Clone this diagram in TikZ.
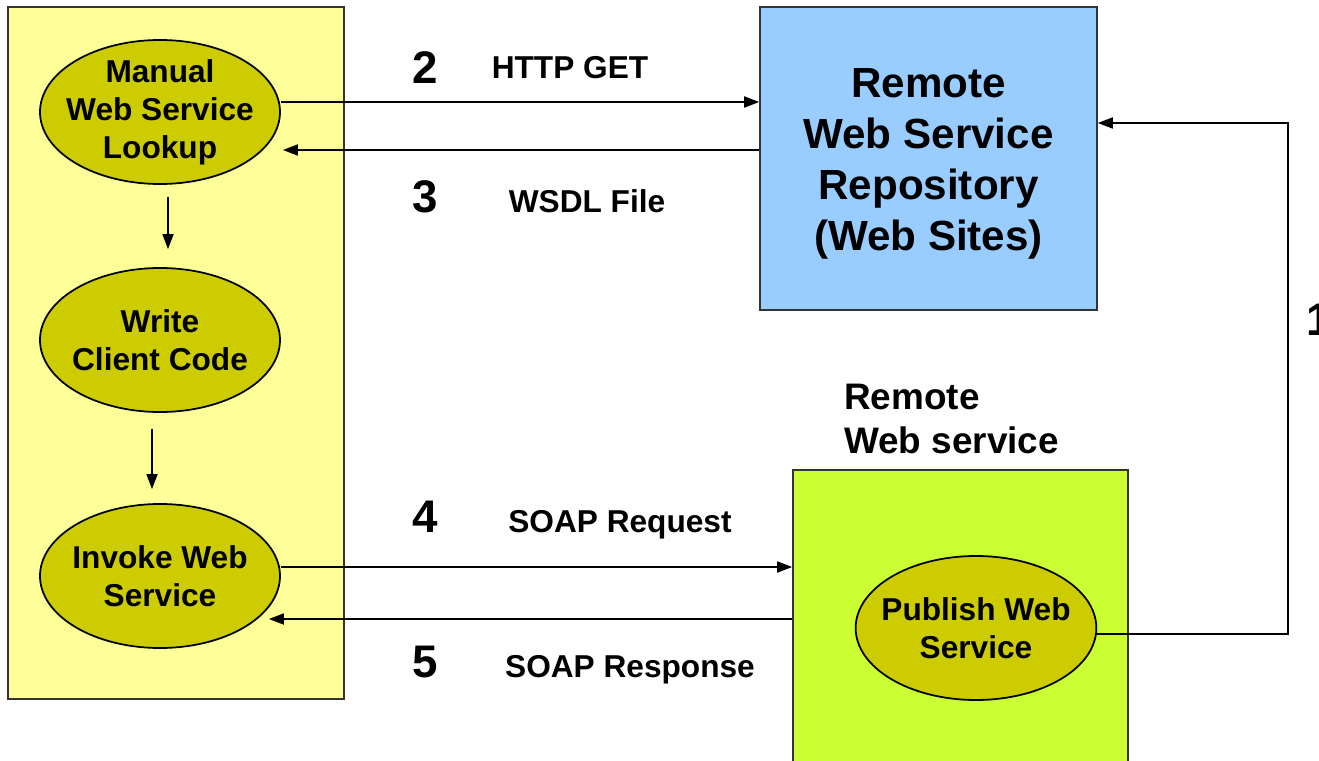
\documentclass[tikz,border=0pt]{standalone}
\usepackage{fontspec}
\setmainfont{Liberation Sans}
\usetikzlibrary{shapes.geometric, arrows.meta, positioning, calc}
\definecolor{PaleYellow}{HTML}{FFFF99}
\definecolor{Olive}{HTML}{CCCC00}
\definecolor{SkyBlue}{HTML}{99CCFF}
\definecolor{Lime}{HTML}{CCFF33}

\begin{document}
\begin{tikzpicture}[
  frame/.style={draw=black!80, line width=0.9pt, inner sep=0pt},
  task/.style={ellipse, draw, fill=Olive, line width=1pt,
               minimum width=4.8cm, minimum height=2.88cm,
               inner xsep=-0.19cm, inner ysep=-0.04cm,
               font=\fontsize{18}{21.6}\selectfont\bfseries, align=center},
  arr/.style={-{Triangle[length=0.3cm, width=0.22cm]}, line width=1pt},
  step num/.style={font=\fontsize{26}{30}\selectfont\bfseries},
  msg/.style={font=\fontsize{18}{21.6}\selectfont\bfseries},
]
\useasboundingbox (0,0) rectangle (26.38,15.2);

% client side
\node[frame, fill=PaleYellow, minimum width=6.72cm, minimum height=13.84cm]
  (client) at (3.52,8.14) {};
\node[task] (lookup) at (3.2,12.96) {Manual\\Web Service\\Lookup};
\node[task] (write)  at (3.2,8.4)  {Write\\Client Code};
\node[task] (invoke) at (3.2,3.68) {Invoke Web\\Service};

\draw[arr, shorten <=0.24cm, shorten >=0.36cm]
  ([xshift=0.16cm]lookup.south) -- ([xshift=0.16cm]write.north);
\draw[arr, shorten <=0.32cm, shorten >=0.28cm]
  ([xshift=-0.16cm]write.south) -- ([xshift=-0.16cm]invoke.north);

% repository and service
\node[frame, fill=SkyBlue, minimum width=6.74cm, minimum height=6.06cm,
      font=\fontsize{24}{29}\selectfont\bfseries, align=center]
  (repo) at (18.57,12.03) {\\[-0.24cm]Remote\\Web Service\\Repository\\(Web Sites)};
\node[frame, fill=Lime, minimum width=6.7cm, minimum height=6.4cm]
  (service) at (19.21,2.6) {};
\node[font=\fontsize{21}{25}\selectfont\bfseries, align=left, anchor=west]
  (svclabel) at (16.76,6.82) {Remote\\Web service};
\node[task] (publish) at (19.52,2.64) {Publish Web\\Service};

% messages
\draw[arr] ([yshift=0.2cm]lookup.east) -- ([yshift=0.2cm]lookup.east -| repo.west);
\draw[arr] ([yshift=-0.76cm]lookup.east -| repo.west) -- ([xshift=0.04cm, yshift=-0.76cm]lookup.east);
\draw[arr] ([yshift=0.18cm]invoke.east) -- ([yshift=0.18cm]invoke.east -| service.west);
\draw[arr] ([yshift=-0.86cm]invoke.east -| service.west) -- ([xshift=-0.24cm, yshift=-0.86cm]invoke.east);

\coordinate (turn) at (25.76,12.74);
\draw[arr] ([yshift=-0.12cm]publish.east) -| (turn) -- (turn -| repo.east);

\node[step num] (n1) at (26.0,8.8) [anchor=west] {1};
\node[step num] (n2) at (8.5,13.84) {2};
\node[step num] (n3) at (8.5,11.26) {3};
\node[step num] (n4) at (8.5,4.86)  {4};
\node[step num] (n5) at (8.5,1.96)  {5};
\node[msg] (get)  at (11.4,13.84) {HTTP GET};
\node[msg] (wsdl) at (11.74,11.18) {WSDL File};
\node[msg] (req)  at (12.4,4.7)   {SOAP Request};
\node[msg] (resp) at (12.6,1.8)   {SOAP Response};
\end{tikzpicture}
\end{document}
